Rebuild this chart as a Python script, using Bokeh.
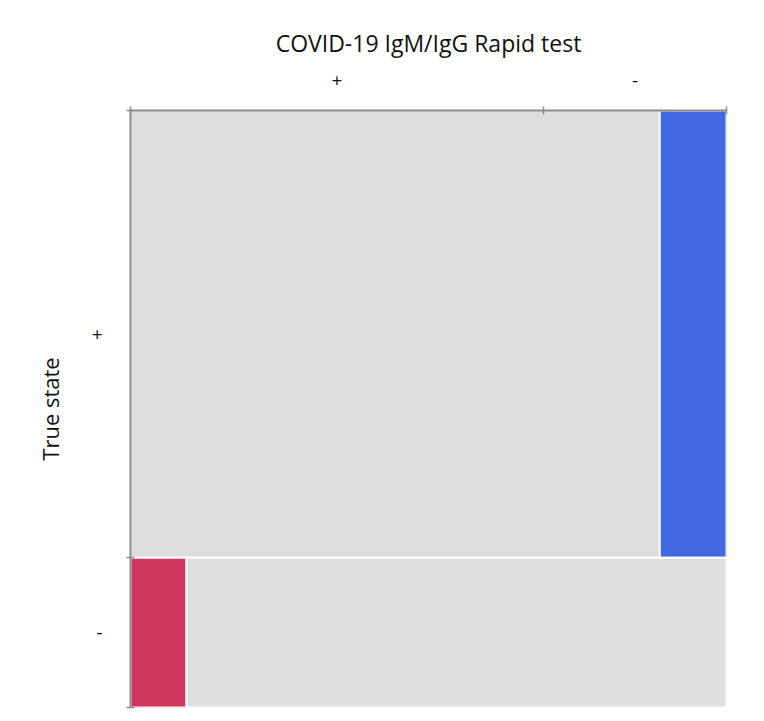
from bokeh.plotting import figure
from bokeh.models import Range1d, FixedTicker, ColumnDataSource
from bokeh.embed import file_html
from bokeh.resources import INLINE

# Mosaic plot data (fractions)
true_states = ["+", "-"]
test_results = ["+", "-"]
true_share = [0.749, 0.251]                 # share of each true state (rows)
test_share_given_true = [[0.888, 0.112],    # true + : test +, test -
                         [0.094, 0.906]]    # true - : test +, test -
cell_colors = [["#dedede", "#4169e1"],
               ["#d0375f", "#dedede"]]
test_margin = [0.693, 0.307]                # marginal split shown on top axis

left, right, top, bottom, color = [], [], [], [], []
y0 = 0.0
for i, rs in enumerate(true_share):
    x0 = 0.0
    for j, cs in enumerate(test_share_given_true[i]):
        left.append(x0); right.append(x0 + cs)
        top.append(y0); bottom.append(y0 + rs)
        color.append(cell_colors[i][j])
        x0 += cs
    y0 += rs
src = ColumnDataSource(dict(left=left, right=right, top=top, bottom=bottom, color=color))

p = figure(width=748, height=713, x_range=Range1d(0, 1), y_range=Range1d(1, 0),
           x_axis_location="above", output_backend="svg", toolbar_location=None,
           min_border_left=130, min_border_right=22, min_border_top=110, min_border_bottom=6)
p.outline_line_color = None
p.grid.visible = False
p.background_fill_color = "white"

p.quad(left="left", right="right", top="top", bottom="bottom", fill_color="color",
       line_color="white", line_width=2, source=src)

# axis tick positions derived from data
xb = [0.0]
for s in test_margin:
    xb.append(xb[-1] + s)
x_mid = [(xb[k] + xb[k + 1]) / 2 for k in range(len(test_margin))]
yb = [0.0]
for s in true_share:
    yb.append(yb[-1] + s)
y_mid = [(yb[k] + yb[k + 1]) / 2 for k in range(len(true_share))]

xa = p.xaxis[0]
xa.ticker = FixedTicker(ticks=x_mid, minor_ticks=xb)
xa.major_label_overrides = {x_mid[k]: test_results[k] for k in range(len(x_mid))}
ya = p.yaxis[0]
ya.ticker = FixedTicker(ticks=y_mid, minor_ticks=yb)
ya.major_label_overrides = {y_mid[k]: true_states[k] for k in range(len(y_mid))}

xa.axis_label = "COVID-19 IgM/IgG Rapid test"
ya.axis_label = "True state"

for ax in (xa, ya):
    ax.axis_line_color = "#8c8c8c"
    ax.axis_line_width = 2
    ax.major_tick_line_color = None
    ax.minor_tick_line_color = "#8c8c8c"
    ax.minor_tick_line_width = 1.5
    ax.minor_tick_in = 4
    ax.minor_tick_out = 4
    ax.major_label_text_font = "Open Sans"
    ax.major_label_text_font_size = "19px"
    ax.major_label_text_color = "#111111"
    ax.axis_label_text_font = "Open Sans"
    ax.axis_label_text_font_size = "22px"
    ax.axis_label_text_font_style = "normal"
    ax.axis_label_text_color = "#111111"

xa.axis_label_text_font_size = "23px"
xa.major_label_standoff = 18
xa.axis_label_standoff = 12
ya.major_label_standoff = 22
ya.major_label_orientation = "horizontal"
ya.axis_label_standoff = 24

open("out.html", "w").write(file_html(p, INLINE))
